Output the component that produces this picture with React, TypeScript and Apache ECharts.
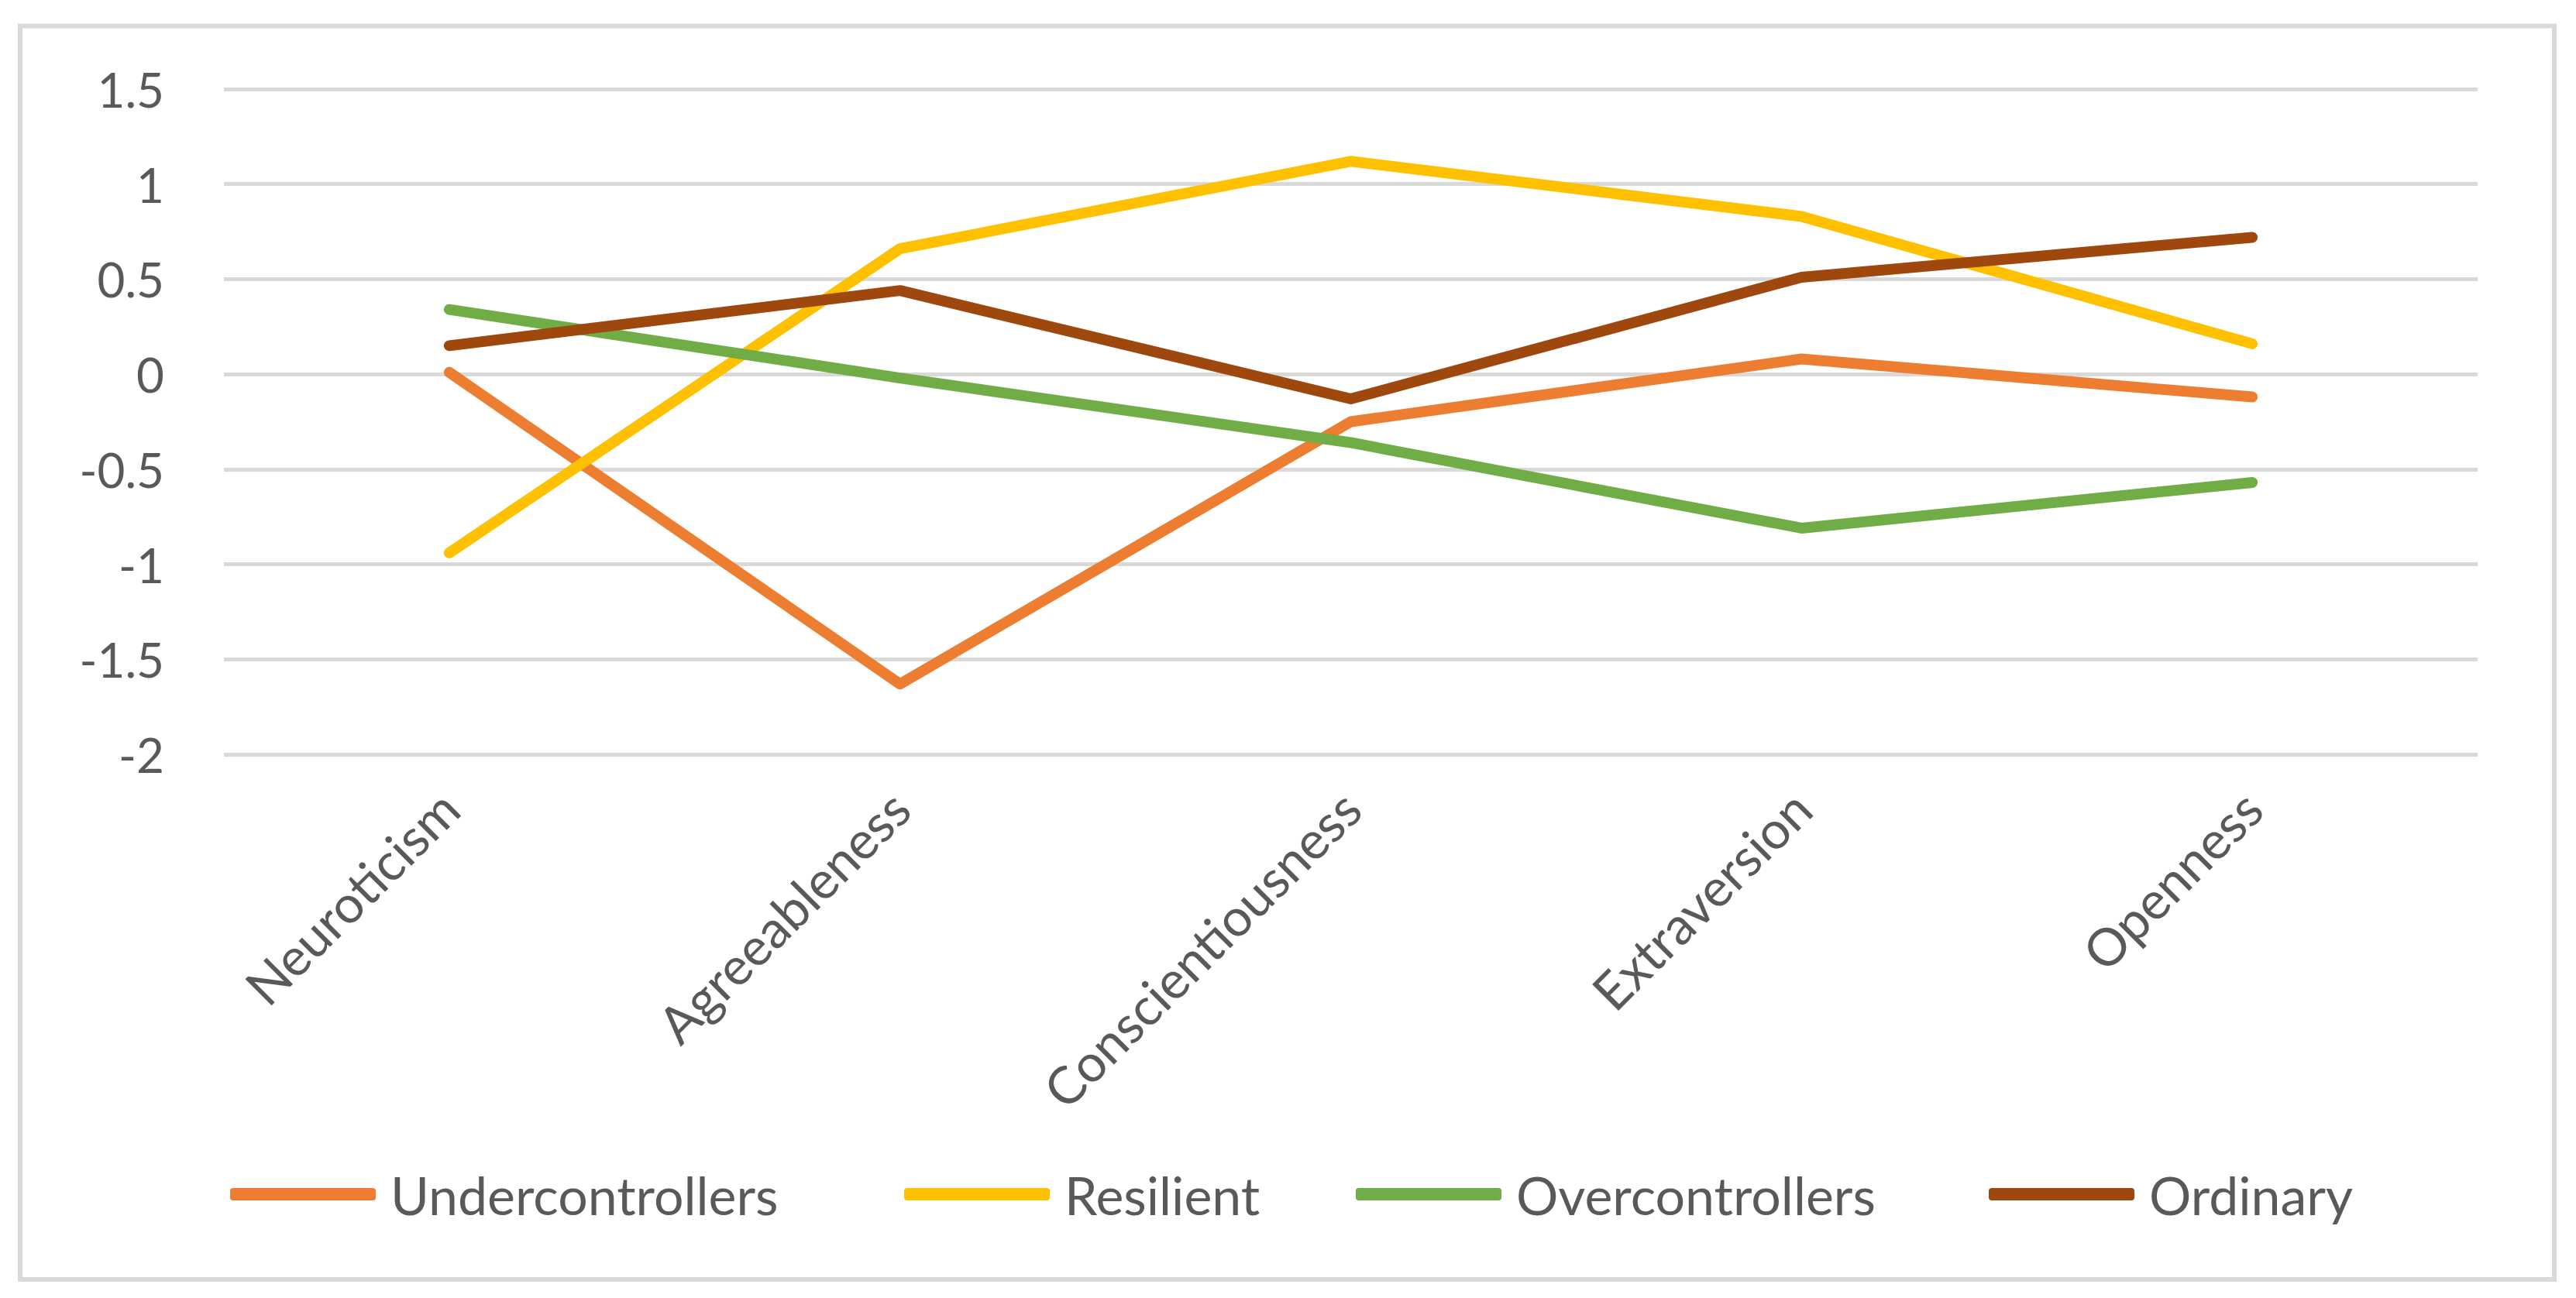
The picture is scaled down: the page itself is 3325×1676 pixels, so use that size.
import React, { useEffect, useRef } from "react";
import * as echarts from "echarts";

const categories = ["Neuroticism", "Agreeableness", "Conscientiousness", "Extraversion", "Openness"];
const seriesNames = ["Undercontrollers", "Resilient", "Overcontrollers", "Ordinary"];
const seriesColors = ["#ED7D31", "#FFC000", "#70AD47", "#9E480E"];
const undercontrollers = [0.01, -1.63, -0.25, 0.08, -0.12];
const resilient = [-0.94, 0.66, 1.12, 0.83, 0.16];
const overcontrollers = [0.34, -0.02, -0.36, -0.81, -0.57];
const ordinary = [0.15, 0.44, -0.13, 0.51, 0.72];
const yMin = -2;
const yMax = 1.5;
const yInterval = 0.5;

const seriesValues = [undercontrollers, resilient, overcontrollers, ordinary];
const legendLefts = [292, 1162, 1745, 2562];

const FONT = "Lato";
const TEXT = "#595959";
const GRID = "#D9D9D9";

export default function App() {
  const ref = useRef<HTMLDivElement>(null);
  useEffect(() => {
    document.body.style.margin = "0";
    document.body.style.overflow = "hidden";
    const chart = echarts.init(ref.current!, null, { renderer: "svg" });
    chart.setOption({
      animation: false,
      backgroundColor: "#FFFFFF",
      graphic: [
        {
          type: "rect",
          shape: { x: 26, y: 33.5, width: 3271, height: 1618.5 },
          style: { fill: "none", stroke: GRID, lineWidth: 6 },
          z: -1,
        },
      ],
      grid: { left: 289, right: 127, top: 115, bottom: 702, containLabel: false },
      xAxis: {
        type: "category",
        data: categories,
        boundaryGap: true,
        axisLine: { show: false },
        axisTick: { show: false },
        splitLine: { show: false },
        axisLabel: {
          rotate: 45,
          margin: 58,
          interval: 0,
          color: TEXT,
          fontFamily: FONT,
          fontSize: 67,
        },
      },
      yAxis: {
        type: "value",
        min: yMin,
        max: yMax,
        interval: yInterval,
        axisLine: { show: false },
        axisTick: { show: false },
        splitLine: { show: true, lineStyle: { color: GRID, width: 5 } },
        axisLabel: {
          margin: 77,
          color: TEXT,
          fontFamily: FONT,
          fontSize: 62,
        },
      },
      legend: seriesNames.map((name, i) => ({
        data: [name],
        left: legendLefts[i],
        top: 1503,
        icon: "roundRect",
        itemWidth: 188,
        itemHeight: 16,
        itemGap: 0,
        textStyle: {
          color: TEXT,
          fontFamily: FONT,
          fontSize: 68,
          padding: [0, 0, 0, 14],
        },
      })),
      series: seriesNames.map((name, i) => ({
        name,
        type: "line",
        data: seriesValues[i],
        showSymbol: false,
        symbol: "none",
        smooth: false,
        color: seriesColors[i],
        lineStyle: { color: seriesColors[i], width: 14, cap: "round", join: "round" },
        itemStyle: { color: seriesColors[i] },
      })),
    });
    return () => chart.dispose();
  }, []);
  return <div ref={ref} style={{ width: 3325, height: 1676 }} />;
}
